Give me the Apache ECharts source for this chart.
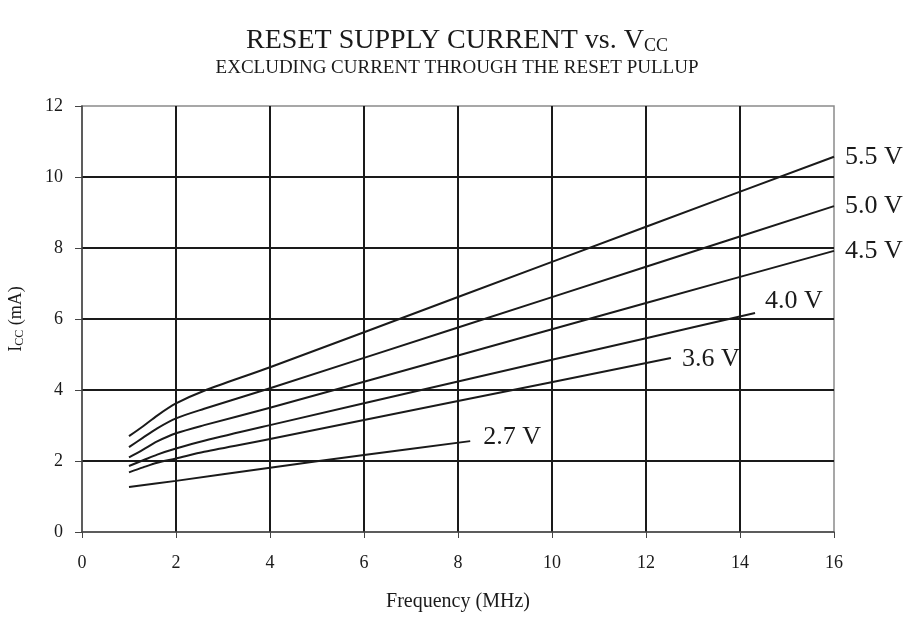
<!DOCTYPE html>
<html>
<head>
<meta charset="utf-8">
<script src="https://cdn.jsdelivr.net/npm/echarts@6/dist/echarts.min.js"></script>
<style>
  html, body { margin: 0; padding: 0; background: #fff; }
  #chart { width: 914px; height: 617px; }
</style>
</head>
<body>
<div id="chart"></div>
<script>
// Supply current (mA) versus clock frequency (MHz) for each Vcc
const xTicks = [0, 2, 4, 6, 8, 10, 12, 14, 16];
const yTicks = [0, 2, 4, 6, 8, 10, 12];

const v55 = [[1, 2.70], [1.3, 2.98], [1.6, 3.28], [2, 3.62], [2.6, 3.98], [4, 4.64], [8, 6.62], [12, 8.60], [16, 10.57]];
const v50 = [[1, 2.39], [1.3, 2.66], [1.6, 2.92], [2, 3.20], [2.6, 3.47], [4, 4.05], [8, 5.76], [12, 7.47], [16, 9.18]];
const v45 = [[1, 2.10], [1.3, 2.32], [1.6, 2.55], [2, 2.78], [2.6, 3.01], [4, 3.50], [8, 4.97], [12, 6.45], [16, 7.92]];
const v40 = [[1, 1.86], [1.3, 2.02], [1.6, 2.18], [2, 2.35], [2.6, 2.57], [4, 3.01], [8, 4.24], [12, 5.46], [14.32, 6.17]];
const v36 = [[1, 1.68], [1.3, 1.82], [1.6, 1.95], [2, 2.07], [2.6, 2.26], [4, 2.62], [8, 3.69], [12.53, 4.90]];
const v27 = [[1, 1.27], [2, 1.44], [4, 1.81], [6, 2.17], [8.26, 2.56]];

const seriesDefs = [
  { name: '5.5 V', data: v55, offset: [3, 0] },
  { name: '5.0 V', data: v50, offset: [3, 0] },
  { name: '4.5 V', data: v45, offset: [3, 0] },
  { name: '4.0 V', data: v40, offset: [2, -12] },
  { name: '3.6 V', data: v36, offset: [3, 1] },
  { name: '2.7 V', data: v27, offset: [5, -4] }
];

const serif = '"Liberation Serif", "DejaVu Serif", serif';
const ink = '#1a1a1a';

const chart = echarts.init(document.getElementById('chart'));
chart.setOption({
  backgroundColor: '#fff',
  animation: false,
  title: [
    {
      text: '{m|RESET SUPPLY CURRENT vs. V}{s|CC}',
      left: 'center',
      top: 21,
      textStyle: {
        fontWeight: 'normal',
        rich: {
          m: { fontFamily: serif, fontSize: 28, fontWeight: 'normal', color: ink },
          s: { fontFamily: serif, fontSize: 18, fontWeight: 'normal', color: ink, verticalAlign: 'bottom', padding: [11, 0, 0, 0] }
        }
      }
    },
    {
      text: 'EXCLUDING CURRENT THROUGH THE RESET PULLUP',
      left: 'center',
      top: 54,
      textStyle: { fontFamily: serif, fontSize: 19, fontWeight: 'normal', color: ink }
    }
  ],
  grid: {
    left: 82, right: 80, top: 106, bottom: 85,
    outerBoundsMode: 'none',
    containLabel: false,
    show: true, borderColor: '#8a8a8a', borderWidth: 1.5, backgroundColor: 'transparent'
  },
  xAxis: {
    type: 'value',
    min: 0, max: 16, interval: 2,
    name: 'Frequency (MHz)',
    nameLocation: 'middle',
    nameGap: 60,
    nameTextStyle: { fontFamily: serif, fontSize: 20, color: ink },
    axisLine: { show: true, lineStyle: { color: '#444', width: 1.5 } },
    axisTick: { show: true, length: 6, lineStyle: { color: '#444', width: 1 } },
    axisLabel: {
      fontFamily: serif, fontSize: 18, color: ink, margin: 22,
      formatter: v => xTicks.includes(v) ? String(v) : ''
    },
    splitLine: { show: true, showMinLine: false, showMaxLine: false, lineStyle: { color: ink, width: 2 } }
  },
  yAxis: {
    type: 'value',
    min: 0, max: 12, interval: 2,
    name: '{m|I}{s|CC}{m| (mA)}',
    nameLocation: 'middle',
    nameGap: 56,
    nameRotate: 90,
    nameTextStyle: {
      rich: {
        m: { fontFamily: serif, fontSize: 18, color: ink },
        s: { fontFamily: serif, fontSize: 12, color: ink, verticalAlign: 'bottom', padding: [7, 0, 0, 0] }
      }
    },
    axisLine: { show: true, lineStyle: { color: '#444', width: 1.5 } },
    axisTick: { show: true, length: 7, lineStyle: { color: '#444', width: 1 } },
    axisLabel: {
      fontFamily: serif, fontSize: 18, color: ink, margin: 19,
      formatter: v => yTicks.includes(v) ? String(v) : ''
    },
    splitLine: { show: true, showMinLine: false, showMaxLine: false, lineStyle: { color: ink, width: 2 } }
  },
  series: seriesDefs.map(d => ({
    name: d.name,
    type: 'line',
    data: d.data,
    smooth: 0.3,
    showSymbol: false,
    silent: true,
    clip: false,
    lineStyle: { color: ink, width: 2 },
    endLabel: {
      show: true,
      formatter: '{a}',
      offset: d.offset,
      fontFamily: serif,
      fontSize: 26,
      color: ink
    }
  }))
});
</script>
</body>
</html>
